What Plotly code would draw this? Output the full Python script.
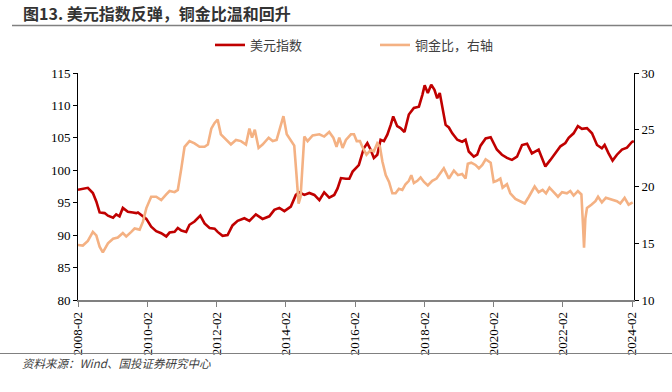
import plotly.graph_objects as go

# ---------------- data ----------------
usd_dates = [
    "2008-02-01", "2008-03-23", "2008-05-15", "2008-07-07", "2008-08-12", "2008-09-16",
    "2008-11-08", "2008-12-13", "2009-02-05", "2009-03-10", "2009-04-14", "2009-05-19",
    "2009-07-11", "2009-09-02", "2009-10-08", "2009-10-25", "2009-12-17", "2010-01-22",
    "2010-03-14", "2010-05-06", "2010-06-28", "2010-08-20", "2010-09-24", "2010-11-16",
    "2010-12-20", "2011-01-26", "2011-03-18", "2011-04-22", "2011-06-14", "2011-08-14",
    "2011-09-28", "2011-11-20", "2012-01-12", "2012-02-13", "2012-04-05", "2012-05-28",
    "2012-07-19", "2012-09-11", "2012-11-21", "2013-01-13", "2013-03-22", "2013-06-01",
    "2013-08-11", "2013-10-03", "2013-11-25", "2014-01-17", "2014-03-26", "2014-05-18",
    "2014-06-23", "2014-08-15", "2014-10-07", "2014-11-29", "2015-01-21", "2015-03-13",
    "2015-05-05", "2015-06-27", "2015-08-01", "2015-09-06", "2015-10-28", "2015-12-03",
    "2016-01-07", "2016-03-12", "2016-05-04", "2016-06-10", "2016-07-14", "2016-08-18",
    "2016-09-23", "2016-10-28", "2016-12-02", "2017-01-07", "2017-02-12", "2017-03-10",
    "2017-04-21", "2017-05-26", "2017-07-07", "2017-08-22", "2017-10-14", "2017-12-06",
    "2018-01-11", "2018-02-05", "2018-03-10", "2018-04-15", "2018-05-19", "2018-06-17",
    "2018-07-14", "2018-08-20", "2018-09-14", "2018-10-18", "2018-11-23", "2019-01-15",
    "2019-03-07", "2019-04-12", "2019-05-16", "2019-07-08", "2019-08-13", "2019-09-17",
    "2019-11-10", "2020-01-02", "2020-03-07", "2020-04-30", "2020-06-22", "2020-08-14",
    "2020-10-06", "2020-11-28", "2021-01-20", "2021-03-12", "2021-05-22", "2021-06-26",
    "2021-08-01", "2021-09-23", "2021-11-15", "2022-01-07", "2022-02-28", "2022-04-04",
    "2022-05-26", "2022-07-10", "2022-08-22", "2022-10-14", "2022-12-06", "2023-01-28",
    "2023-03-20", "2023-04-18", "2023-05-30", "2023-07-11", "2023-08-26", "2023-10-18",
    "2023-12-10", "2024-02-02", "2024-02-20",
]
usd_values = [
    97.0, 97.2, 97.3, 96.5, 95.2, 93.5,
    93.4, 93.0, 92.7, 93.2, 92.9, 94.2,
    93.6, 93.5, 93.4, 93.5, 92.9, 92.5,
    91.3, 90.6, 90.3, 89.8, 90.4, 90.5,
    91.1, 90.7, 90.5, 91.6, 92.1, 93.0,
    91.8, 91.1, 91.0, 90.5, 89.9, 90.0,
    91.5, 92.2, 92.6, 92.2, 93.2, 92.5,
    92.9, 93.9, 94.2, 93.7, 94.4, 96.2,
    96.6, 96.2, 96.5, 96.2, 95.4, 96.6,
    95.8, 96.2, 97.2, 98.8, 98.7, 98.7,
    99.8, 100.8, 103.4, 104.2, 103.2, 101.9,
    102.4, 104.7, 104.5, 105.5, 107.0, 108.3,
    106.8, 106.5, 105.9, 108.6, 109.6, 109.8,
    111.6, 113.1, 111.9, 113.2, 112.4, 111.1,
    111.9, 109.1, 107.0, 106.6, 105.7, 104.7,
    104.4, 104.7, 102.9, 102.1, 102.4, 103.8,
    104.9, 105.1, 103.2, 102.4, 101.9, 101.6,
    102.1, 103.9, 104.1, 102.6, 103.2, 101.9,
    100.6, 101.6, 102.6, 103.7, 104.2, 105.0,
    105.7, 106.8, 106.4, 106.5, 105.7, 103.9,
    103.4, 103.9, 102.6, 101.5, 102.4, 103.2,
    103.5, 104.4, 104.5,
]

ratio_dates = [
    "2008-02-01", "2008-03-23", "2008-05-15", "2008-07-07", "2008-08-12", "2008-09-16",
    "2008-10-20", "2008-12-13", "2009-02-05", "2009-03-27", "2009-05-19", "2009-06-24",
    "2009-08-16", "2009-09-20", "2009-11-12", "2009-12-17", "2010-01-22", "2010-03-14",
    "2010-05-06", "2010-06-28", "2010-08-20", "2010-09-24", "2010-11-16", "2010-12-20",
    "2011-01-26", "2011-03-01", "2011-04-22", "2011-06-14", "2011-08-06", "2011-09-28",
    "2011-11-02", "2011-12-08", "2012-01-12", "2012-02-13", "2012-03-18", "2012-05-10",
    "2012-07-02", "2012-08-24", "2012-10-16", "2012-12-08", "2013-01-13", "2013-02-10",
    "2013-03-11", "2013-04-20", "2013-06-01", "2013-08-04", "2013-09-16", "2013-10-27",
    "2013-11-25", "2014-01-07", "2014-02-11", "2014-03-26", "2014-05-01", "2014-05-25",
    "2014-06-16", "2014-07-07", "2014-07-28", "2014-08-15", "2014-09-19", "2014-11-11",
    "2015-01-21", "2015-03-13", "2015-05-05", "2015-06-17", "2015-07-21", "2015-08-19",
    "2015-09-23", "2015-10-28", "2015-12-20", "2016-01-21", "2016-02-19", "2016-03-24",
    "2016-04-18", "2016-06-01", "2016-07-14", "2016-08-18", "2016-09-23", "2016-10-21",
    "2016-11-16", "2016-12-21", "2017-01-25", "2017-03-01", "2017-04-04", "2017-05-09",
    "2017-06-14", "2017-07-18", "2017-08-22", "2017-09-17", "2017-10-14", "2017-11-20",
    "2017-12-24", "2018-01-29", "2018-03-10", "2018-04-26", "2018-06-10", "2018-07-22",
    "2018-08-26", "2018-10-18", "2018-12-10", "2019-01-22", "2019-03-07", "2019-04-12",
    "2019-05-06", "2019-06-11", "2019-07-26", "2019-08-31", "2019-10-06", "2019-11-10",
    "2020-01-02", "2020-02-03", "2020-03-07", "2020-04-13", "2020-05-07", "2020-06-22",
    "2020-07-27", "2020-09-19", "2020-11-11", "2020-12-26", "2021-02-08", "2021-04-10",
    "2021-05-22", "2021-07-03", "2021-08-08", "2021-09-13", "2021-10-28", "2021-12-12",
    "2022-01-24", "2022-03-16", "2022-04-21", "2022-05-26", "2022-07-10", "2022-08-16",
    "2022-09-02", "2022-09-13", "2022-09-27", "2022-10-14", "2022-11-29", "2023-01-11",
    "2023-02-08", "2023-03-20", "2023-05-01", "2023-07-04", "2023-08-26", "2023-09-30",
    "2023-11-15", "2023-12-27", "2024-02-08",
]
ratio_values = [
    14.85, 14.8, 15.2, 16.0, 15.7, 14.7,
    14.2, 15.0, 15.4, 15.5, 15.9, 15.6,
    16.0, 16.3, 16.2, 16.9, 18.1, 19.1,
    19.1, 18.8, 19.3, 19.6, 19.5, 19.7,
    21.6, 23.5, 24.0, 23.8, 23.5, 23.5,
    23.7, 25.1, 25.6, 25.9, 24.6, 24.1,
    23.7, 24.1, 24.0, 23.7, 25.1, 24.3,
    25.0, 23.4, 23.7, 24.3, 24.0, 24.1,
    25.0, 26.2, 24.6, 24.1, 23.6, 21.0,
    18.5, 19.1, 21.6, 24.4, 24.0, 24.5,
    24.6, 24.4, 24.8, 24.3, 23.5, 24.3,
    23.4, 24.1, 24.6, 24.6, 24.0, 24.0,
    23.5, 22.8, 23.2, 23.1, 23.8, 23.5,
    22.2, 21.0, 20.4, 19.4, 19.4, 19.8,
    19.7, 20.2, 20.5, 21.0, 20.3, 20.5,
    20.8, 20.4, 20.1, 20.5, 20.7, 21.2,
    21.6, 20.7, 21.4, 21.0, 21.1, 20.7,
    22.0, 22.1, 21.9, 21.6, 21.9, 22.4,
    22.1, 20.4, 20.5, 20.7, 19.9, 20.2,
    19.4, 18.9, 18.7, 18.5, 19.1, 20.0,
    19.5, 19.7, 19.4, 19.9, 19.5, 19.1,
    19.5, 19.4, 19.6, 19.2, 19.6, 19.3,
    16.6, 14.6, 17.2, 18.1, 18.4, 18.7,
    19.1, 18.6, 19.0, 18.8, 18.7, 18.5,
    19.0, 18.4, 18.6,
]

tick_dates = ["2008-02-01", "2010-02-01", "2012-02-01", "2014-02-01", "2016-02-01",
              "2018-02-01", "2020-02-01", "2022-02-01", "2024-02-01"]
tick_labels = ["2008-02", "2010-02", "2012-02", "2014-02", "2016-02",
               "2018-02", "2020-02", "2022-02", "2024-02"]

name_usd = "美元指数"
name_ratio = "铜金比，右轴"
title_text = "图13. 美元指数反弹，铜金比温和回升"
source_text = "资料来源：Wind、国投证券研究中心"

# ---------------- layout geometry ----------------
W, H = 672, 392
L, R, T, B = 78, 38, 73, 92
pw, ph = W - L - R, H - T - B


def px_x(x):
    return (x - L) / pw


def px_y(y):
    return (H - B - y) / ph


serif = "Liberation Serif, Times New Roman, serif"
cjk = "Noto Sans CJK SC, sans-serif"

fig = go.Figure()
fig.add_trace(go.Scatter(x=usd_dates, y=usd_values, name=name_usd, mode="lines",
                         line=dict(color="#C00000", width=2.6), yaxis="y"))
fig.add_trace(go.Scatter(x=ratio_dates, y=ratio_values, name=name_ratio, mode="lines",
                         line=dict(color="#F4B183", width=2.6), yaxis="y2"))

fig.update_layout(
    width=W, height=H,
    margin=dict(l=L, r=R, t=T, b=B, autoexpand=False),
    paper_bgcolor="white", plot_bgcolor="white",
    showlegend=True,
    legend=dict(orientation="h", x=px_x(210), y=px_y(45), xanchor="left", yanchor="middle",
                font=dict(family=cjk, size=13, color="#404040"),
                entrywidth=120, entrywidthmode="pixels",
                bgcolor="rgba(0,0,0,0)", tracegroupgap=0),
    xaxis=dict(type="date", range=["2008-02-01", "2024-02-22"],
               tickvals=tick_dates, ticktext=tick_labels, tickangle=-90,
               showgrid=False, zeroline=False, automargin=False,
               showline=True, linecolor="#808080", linewidth=1.5,
               ticks="outside", ticklen=5, tickcolor="#808080", tickwidth=1,
               tickfont=dict(family=serif, size=13, color="#000000")),
    yaxis=dict(range=[80, 115], dtick=5, showgrid=False, zeroline=False, automargin=False,
               showline=True, linecolor="#000000", linewidth=1,
               ticks="outside", ticklen=4, tickcolor="#000000",
               tickfont=dict(family=serif, size=13, color="#000000")),
    yaxis2=dict(range=[10, 30], dtick=5, overlaying="y", side="right", automargin=False,
                showgrid=False, zeroline=False,
                showline=True, linecolor="#000000", linewidth=1,
                ticks="outside", ticklen=4, tickcolor="#000000",
                tickfont=dict(family=serif, size=13, color="#000000")),
    font=dict(family=cjk),
)

fig.add_annotation(text="<b>" + title_text + "</b>", xref="paper", yref="paper",
                   x=px_x(21), y=px_y(13), xanchor="left", yanchor="middle",
                   showarrow=False, font=dict(family=cjk, size=16, color="#333333"))
fig.add_annotation(text=source_text, xref="paper", yref="paper",
                   x=px_x(20), y=px_y(363), xanchor="left", yanchor="middle",
                   showarrow=False,
                   font=dict(family=cjk, size=11.5, color="#404040", style="italic"))

fig.add_shape(type="line", xref="paper", yref="paper",
              x0=px_x(12), x1=px_x(672), y0=px_y(25.5), y1=px_y(25.5),
              line=dict(color="#808080", width=1.5))
fig.add_shape(type="line", xref="paper", yref="paper",
              x0=px_x(0), x1=px_x(672), y0=px_y(353.5), y1=px_y(353.5),
              line=dict(color="#808080", width=1.2))

fig.write_html("out.html",
               config={"displayModeBar": False},
               post_script="document.body.style.margin='0px';document.body.style.padding='0px';")
